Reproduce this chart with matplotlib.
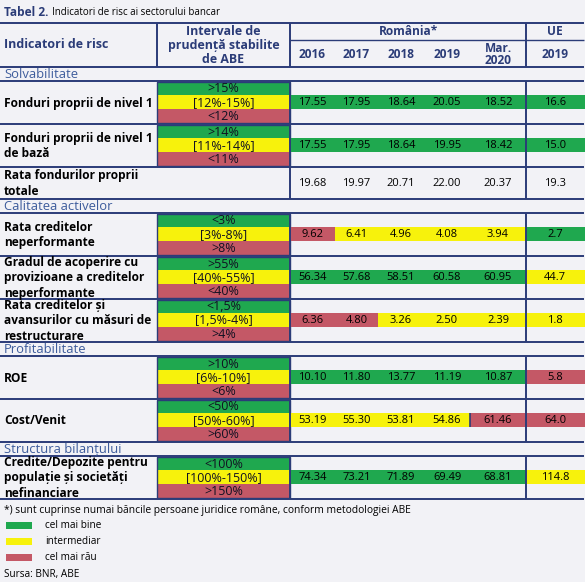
import matplotlib.pyplot as plt
from matplotlib.patches import Rectangle

#-------------------------------------------------------------------------
# Data
#-------------------------------------------------------------------------

title_bold = 'Tabel 2.'
title_text = 'Indicatori de risc ai sectorului bancar'

years_ro = ['2016', '2017', '2018', '2019', 'Mar.\n2020']
year_ue  = '2019'

indicators = [
  'Fonduri proprii de nivel 1',
  'Fonduri proprii de nivel 1\nde bază',
  'Rata fondurilor proprii\ntotale',
  'Rata creditelor\nneperformante',
  'Gradul de acoperire cu\nprovizioane a creditelor\nneperformante',
  'Rata creditelor și\navansurilor cu măsuri de\nrestructurare',
  'ROE',
  'Cost/Venit',
  'Credite/Depozite pentru\npopulație și societăți\nnefinanciare',
]

thresholds = [
  ['>15%',  '[12%-15%]',   '<12%'],
  ['>14%',  '[11%-14%]',   '<11%'],
  None,
  ['<3%',   '[3%-8%]',     '>8%'],
  ['>55%',  '[40%-55%]',   '<40%'],
  ['<1,5%', '[1,5%-4%]',   '>4%'],
  ['>10%',  '[6%-10%]',    '<6%'],
  ['<50%',  '[50%-60%]',   '>60%'],
  ['<100%', '[100%-150%]', '>150%'],
]

ro_values = [
  [17.55, 17.95, 18.64, 20.05, 18.52],
  [17.55, 17.95, 18.64, 19.95, 18.42],
  [19.68, 19.97, 20.71, 22.00, 20.37],
  [ 9.62,  6.41,  4.96,  4.08,  3.94],
  [56.34, 57.68, 58.51, 60.58, 60.95],
  [ 6.36,  4.80,  3.26,  2.50,  2.39],
  [10.10, 11.80, 13.77, 11.19, 10.87],
  [53.19, 55.30, 53.81, 54.86, 61.46],
  [74.34, 73.21, 71.89, 69.49, 68.81],
]

ue_values = [16.6, 15.0, 19.3, 2.7, 44.7, 1.8, 5.8, 64.0, 114.8]

# g = cel mai bine, y = intermediar, r = cel mai rau
ro_rating = [
  'ggggg', 'ggggg', '-----', 'ryyyy', 'ggggg',
  'rryyy', 'ggggg', 'yyyyr', 'ggggg',
]
ue_rating = 'gg-gyyrry'

sections = {0: 'Solvabilitate', 3: 'Calitatea activelor',
            6: 'Profitabilitate', 8: 'Structura bilanțului'}

legend_labels = ['cel mai bine', 'intermediar', 'cel mai rău']
footnote = '*) sunt cuprinse numai băncile persoane juridice române, conform metodologiei ABE'
source   = 'Sursa: BNR, ABE'

#-------------------------------------------------------------------------
# Style
#-------------------------------------------------------------------------

plt.rcParams['font.family'] = ['Open Sans', 'DejaVu Sans']

bg     = '#f2f2f6'
navy   = '#2b3c78'
sect_c = '#3d5c9c'
colors = {'g': '#1fa84f', 'y': '#f7f20c', 'r': '#c45866'}

W, H = 585, 582
x_c1, x_c2, x_ue, x_end = 157, 290, 526, 584
col_edges = [290, 335, 378, 424, 470, 526, 584]

fs_body = 8.0
fs_thr  = 9.0
fs_head = 8.6

#-------------------------------------------------------------------------
# Create plot
#-------------------------------------------------------------------------

fig = plt.figure(figsize=(W/100, H/100), dpi=100, facecolor=bg)
ax  = fig.add_axes([0, 0, 1, 1])
ax.set_xlim(0, W)
ax.set_ylim(H, 0)
ax.axis('off')

def hline(y, x0=0, x1=x_end, lw=1.4):
  ax.plot([x0, x1], [y, y], color=navy, lw=lw, solid_capstyle='butt')

def vline(x, y0, y1, lw=1.4):
  ax.plot([x, x], [y0, y1], color=navy, lw=lw, solid_capstyle='butt')

# Title
ax.text(4, 12, title_bold, fontsize=8.6, fontweight='bold', color=navy, va='center')
ax.text(52, 12.5, title_text, fontsize=7, color='black', va='center')

# Header
y_top, y_mid, y_hb = 23, 40, 67
hline(y_top)
hline(y_mid, x_c2, x_end, lw=1.0)
hline(y_hb)
for x in [x_c1, x_c2, x_ue]:
  vline(x, y_top, y_hb)
ax.text(4, 45, 'Indicatori de risc', fontsize=fs_head+0.4, fontweight='bold',
        color=navy, va='center')
ax.text((x_c1+x_c2)/2, 45.5, 'Intervale de\nprudență stabilite\nde ABE',
        fontsize=fs_head+0.3, fontweight='bold', color=navy, va='center',
        ha='center', linespacing=1.08)
ax.text((x_c2+x_ue)/2, 31.5, 'România*', fontsize=fs_head, fontweight='bold',
        color=navy, ha='center', va='center')
ax.text((x_ue+x_end)/2, 31.5, 'UE', fontsize=fs_head, fontweight='bold',
        color=navy, ha='center', va='center')
for i, yr in enumerate(years_ro):
  xc = (col_edges[i]+col_edges[i+1])/2
  ax.text(xc, 54.5, yr, fontsize=fs_head, fontweight='bold', color=navy,
          ha='center', va='center', linespacing=1.0)
ax.text((x_ue+x_end)/2, 54.5, year_ue, fontsize=fs_head, fontweight='bold',
        color=navy, ha='center', va='center')

# Body rows
sec_h = 14
y = y_hb
for r, name in enumerate(indicators):
  if r in sections:
    ax.text(4, y+sec_h/2+0.5, sections[r], fontsize=9.4, color=sect_c,
            va='center')
    y += sec_h
    hline(y)
  h  = 43 if thresholds[r] else 32
  y0, y1 = y, y+h

  ax.text(4, (y0+y1)/2+0.5, name, fontsize=fs_head, fontweight='bold',
          color='black', va='center', linespacing=1.22)

  if thresholds[r]:
    bands = [y0+1, y0+14, y0+28, y1-1]
    band_y, band_h = bands[1], bands[2]-bands[1]
    for k, lab in enumerate(thresholds[r]):
      ax.add_patch(Rectangle((x_c1, bands[k]), x_c2-x_c1, bands[k+1]-bands[k],
                             facecolor=colors['gyr'[k]], edgecolor='none'))
      ax.text((x_c1+x_c2)/2, (bands[k]+bands[k+1])/2+0.5, lab,
              fontsize=fs_thr, color='#111122', ha='center', va='center')
    ax.add_patch(Rectangle((x_c1, bands[0]), x_c2-x_c1, bands[3]-bands[0],
                           facecolor='none', edgecolor=navy, lw=1.0))
  else:
    band_y, band_h = y0+9, 15

  yc = band_y+band_h/2+0.5
  for i, v in enumerate(ro_values[r]):
    c = ro_rating[r][i]
    if c != '-':
      ax.add_patch(Rectangle((col_edges[i], band_y), col_edges[i+1]-col_edges[i],
                             band_h, facecolor=colors[c], edgecolor='none'))
    ax.text((col_edges[i]+col_edges[i+1])/2, yc, '%.2f' % v, fontsize=fs_body,
            color='black', ha='center', va='center')
  if ue_rating[r] != '-':
    ax.add_patch(Rectangle((x_ue, band_y), x_end-x_ue+1, band_h,
                           facecolor=colors[ue_rating[r]], edgecolor='none'))
  ax.text((x_ue+x_end)/2, yc, '%.1f' % ue_values[r], fontsize=fs_body,
          color='black', ha='center', va='center')

  # dark tick between yellow and red cells in Cost/Venit
  if r == 7:
    vline(col_edges[4], band_y, band_y+band_h, lw=1.2)

  vline(x_c2, y0, y1)
  vline(x_ue, y0, y1)
  hline(y1)
  y = y1

# Footnote and legend
ax.text(4, 511, footnote, fontsize=7.4, color='black', va='center')
for k, lab in enumerate(legend_labels):
  yc = 525+k*16
  ax.add_patch(Rectangle((6, yc-3.5), 26, 7, facecolor=colors['gyr'[k]],
                         edgecolor='none'))
  ax.text(45, yc, lab, fontsize=7.2, color='black', va='center')
ax.text(4, 574, source, fontsize=7.2, color='black', va='center')

plt.savefig('out.png', dpi=100, facecolor=bg)
